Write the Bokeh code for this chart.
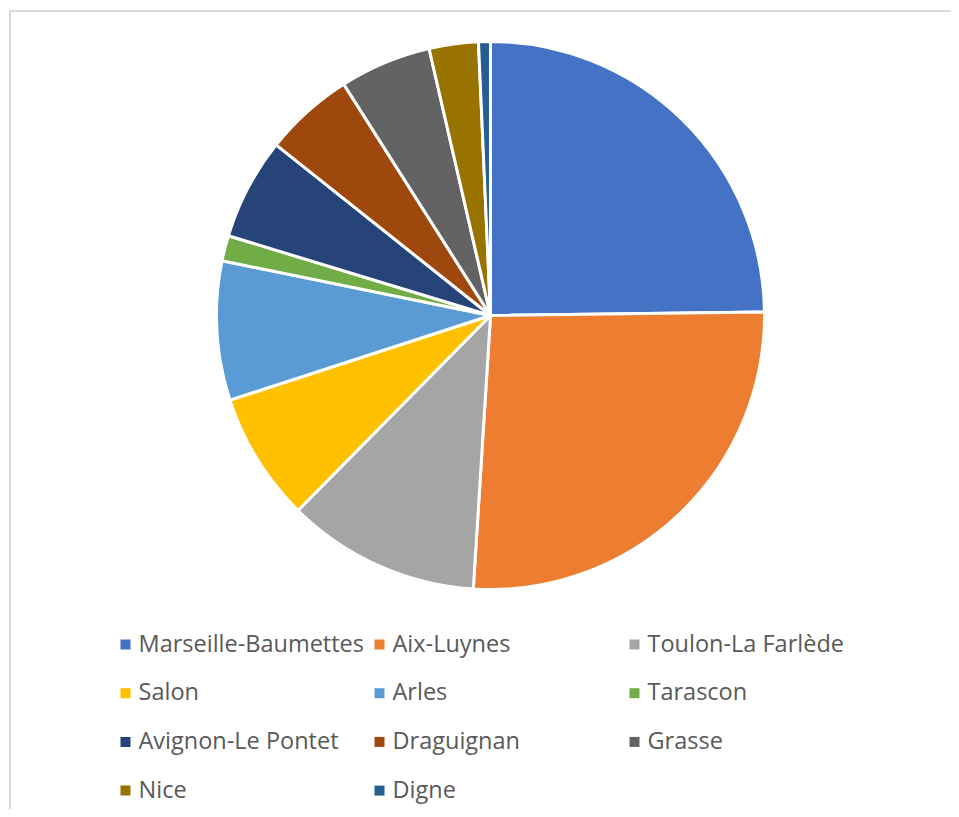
import numpy as np
from bokeh.plotting import figure
from bokeh.models import Range1d, ColumnDataSource
from bokeh.core.properties import value
from bokeh.embed import file_html
from bokeh.resources import INLINE

# ---- data ----
labels = ["Marseille-Baumettes", "Aix-Luynes", "Toulon-La Farlède", "Salon", "Arles",
          "Tarascon", "Avignon-Le Pontet", "Draguignan", "Grasse", "Nice", "Digne"]
shares = [24.8, 26.2, 11.4, 7.6, 8.2, 1.5, 6.0, 5.3, 5.4, 2.9, 0.7]
colors = ["#4472C4", "#ED7D31", "#A5A5A5", "#FFC000", "#5B9BD5", "#70AD47",
          "#264478", "#9E480E", "#636363", "#997300", "#255E91"]

W, H = 951, 809
p = figure(width=W, height=H, output_backend="svg", toolbar_location=None,
           x_range=Range1d(0, W), y_range=Range1d(0, H), min_border=0)
p.axis.visible = False
p.grid.visible = False
p.outline_line_color = None
p.background_fill_color = "white"
p.border_fill_color = "white"

# chart frame (partially cut by window, like the reference)
p.quad(left=[9.5], right=[W + 50], top=[H - 10.5], bottom=[-50],
       fill_color=None, line_color="#D9D9D9", line_width=2)

# ---- pie ----
cx, cy, r = 490, H - 315, 274
vals = np.array(shares, dtype=float)
frac = vals / vals.sum()
ends = np.cumsum(frac) * 2 * np.pi
starts = np.concatenate([[0], ends[:-1]])
# clockwise from 12 o'clock
start_angle = np.pi / 2 - starts
end_angle = np.pi / 2 - ends
src = ColumnDataSource(dict(start=start_angle, end=end_angle, color=colors, label=labels))
p.wedge(x=cx, y=cy, radius=r, start_angle="start", end_angle="end",
        direction="clock", fill_color="color", line_color="white", line_width=3,
        source=src)

# ---- legend ----
ncol = 3
col_x = [120, 374, 629]
row_y0 = H - 644
row_dy = 48.7
lx, ly, tx, ty = [], [], [], []
for i in range(len(labels)):
    c, rr = i % ncol, i // ncol
    lx.append(col_x[c] + 5)
    ly.append(row_y0 - rr * row_dy)
    tx.append(col_x[c] + 18)
    ty.append(row_y0 - rr * row_dy + 2)
lsrc = ColumnDataSource(dict(x=lx, y=ly, tx=tx, ty=ty, color=colors, label=labels))
p.rect(x="x", y="y", width=10, height=10, fill_color="color", line_color=None, source=lsrc)
p.text(x="tx", y="ty", text="label", source=lsrc, text_font=value("Open Sans"),
       text_font_size="23.5px", text_color="#595959", text_baseline="middle",
       text_align="left")

open("out.html", "w").write(file_html(p, INLINE))
